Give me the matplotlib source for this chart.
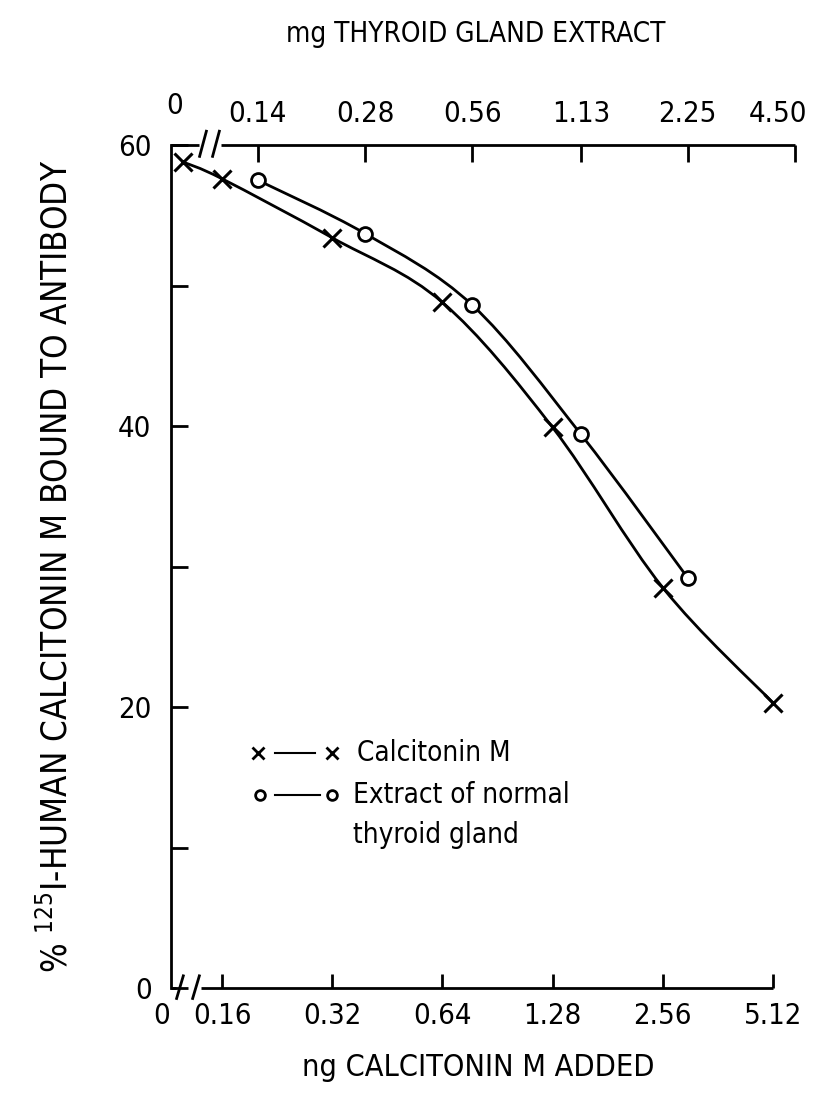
import numpy as np
import matplotlib
matplotlib.use("Agg")
import matplotlib.pyplot as plt
from matplotlib.path import Path
from matplotlib.patches import PathPatch

plt.rcParams['font.family'] = ['DejaVu Sans']
plt.rcParams['font.stretch'] = 'condensed'
plt.rcParams['mathtext.default'] = 'regular'

# calcitonin M standard (bottom axis, ng added)
ng_added = [0, 0.16, 0.32, 0.64, 1.28, 2.56, 5.12]
pct_calcitonin = [58.8, 57.6, 53.4, 48.8, 39.9, 28.5, 20.3]

# normal thyroid gland extract (top axis, mg)
mg_extract = [0.14, 0.28, 0.56, 1.13, 2.25]
pct_extract = [57.5, 53.7, 48.6, 39.4, 29.2]

ng_ticks = [0.16, 0.32, 0.64, 1.28, 2.56, 5.12]
ng_ticklabels = ['0.16', '0.32', '0.64', '1.28', '2.56', '5.12']
mg_ticks = [0.14, 0.28, 0.56, 1.13, 2.25, 4.50]
mg_ticklabels = ['0.14', '0.28', '0.56', '1.13', '2.25', '4.50']
y_major = [0, 20, 40, 60]
y_minor = [10, 30, 50]

# zero dose sits just past the axis break
BREAK_NG = 0.125

LW = 2.0


def smooth_path(xs, ys):
    # catmull-rom through the points in log2(x) space, as cubic beziers
    lx = np.log2(np.asarray(xs, float))
    y = np.asarray(ys, float)
    pts = np.column_stack([lx, y])
    verts = [pts[0]]
    codes = [Path.MOVETO]
    n = len(pts)
    for i in range(n - 1):
        p0 = pts[i - 1] if i > 0 else pts[i]
        p1 = pts[i]
        p2 = pts[i + 1]
        p3 = pts[i + 2] if i + 2 < n else pts[i + 1]
        c1 = p1 + (p2 - p0) / 6.0
        c2 = p2 - (p3 - p1) / 6.0
        verts += [c1, c2, p2]
        codes += [Path.CURVE4] * 3
    verts = np.array(verts)
    verts[:, 0] = 2.0 ** verts[:, 0]
    return Path(verts, codes)


fig = plt.figure(figsize=(8.13, 10.99), dpi=100)
ax = fig.add_axes([0.2103, 0.101, 0.7675, 0.767])
ax_top = ax.twiny()

ax.set_xscale('log', base=2)
ax.set_xlim(0.116, 5.88)
ax.set_ylim(0, 60)
ax_top.set_xscale('log', base=2)
ax_top.set_xlim(0.0799, 4.50)

# spines: left only, top/bottom drawn by hand with breaks
for s in ['top', 'right', 'bottom']:
    ax.spines[s].set_visible(False)
for s in ['top', 'right', 'bottom', 'left']:
    ax_top.spines[s].set_visible(False)
ax.spines['left'].set_linewidth(LW)

tr = ax.transAxes
kw = dict(color='black', lw=LW, transform=tr, clip_on=False, solid_capstyle='butt')
# bottom axis line with break
ax.plot([0, 0.008], [0, 0], **kw)
ax.plot([0.048, 0.9647], [0, 0], **kw)
for xc in [0.0144, 0.0401]:
    ax.plot([xc - 0.006, xc + 0.006], [-0.014, 0.016], **kw)
# top axis line with break
ax.plot([0, 0.045], [1, 1], **kw)
ax.plot([0.080, 1.0], [1, 1], **kw)
for xc in [0.0513, 0.0721]:
    ax.plot([xc - 0.006, xc + 0.006], [0.985, 1.018], **kw)

ax.set_xticks(ng_ticks)
ax.set_xticklabels(ng_ticklabels)
ax.xaxis.set_minor_locator(matplotlib.ticker.NullLocator())
ax.set_yticks(y_major)
ax.set_yticks(y_minor, minor=True)
ax.tick_params(axis='x', direction='in', length=10, width=LW, labelsize=21, pad=10)
ax.tick_params(axis='y', which='both', direction='in', length=12, width=LW, labelsize=21, pad=14)

ax_top.set_xticks(mg_ticks)
ax_top.set_xticklabels(mg_ticklabels)
ax_top.xaxis.set_minor_locator(matplotlib.ticker.NullLocator())
ax_top.tick_params(axis='x', direction='in', length=12, width=LW, labelsize=21, pad=12)
# last top label sits inside the page edge
ax_top.get_xticklabels()[-1].set_horizontalalignment('right')
ax_top.get_xticklabels()[-1].set_x(4.50)
last = ax_top.xaxis.get_major_ticks()[-1].label2
last.set_horizontalalignment('right')
last.set_transform(last.get_transform() + matplotlib.transforms.ScaledTranslation(12 / 100, 0, fig.dpi_scale_trans))

# zero labels at the breaks
ax.text(-0.0144, -0.0165, '0', transform=tr, ha='center', va='top', fontsize=21)
ax.text(0.0064, 1.03, '0', transform=tr, ha='center', va='bottom', fontsize=21)

# curves
ng_plot = [BREAK_NG if v == 0 else v for v in ng_added]
ax.add_patch(PathPatch(smooth_path(ng_plot, pct_calcitonin), fill=False, lw=LW, ec='black'))
ax_top.add_patch(PathPatch(smooth_path(mg_extract, pct_extract), fill=False, lw=LW, ec='black'))

ax.plot(ng_plot, pct_calcitonin, ls='none', marker='x', ms=13, mew=2.2, color='black', clip_on=False, zorder=5)
ax_top.plot(mg_extract, pct_extract, ls='none', marker='o', ms=10, mew=2, mfc='white', mec='black', clip_on=False, zorder=5)

# legend, drawn by hand
ax.plot([0.139], [0.279], marker='x', ms=9, mew=2, color='black', transform=tr)
ax.plot([0.167, 0.231], [0.279, 0.279], color='black', lw=1.5, transform=tr)
ax.plot([0.258], [0.279], marker='x', ms=9, mew=2, color='black', transform=tr)
ax.text(0.298, 0.279, 'Calcitonin M', transform=tr, va='center', fontsize=20)
ax.plot([0.143], [0.229], marker='o', ms=7, mew=2, mfc='white', mec='black', transform=tr)
ax.plot([0.167, 0.239], [0.229, 0.229], color='black', lw=1.5, transform=tr)
ax.plot([0.258], [0.229], marker='o', ms=7, mew=2, mfc='white', mec='black', transform=tr)
ax.text(0.292, 0.229, 'Extract of normal', transform=tr, va='center', fontsize=20)
ax.text(0.292, 0.181, 'thyroid gland', transform=tr, va='center', fontsize=20)

ax.set_ylabel('% $^{125}$I-HUMAN CALCITONIN M BOUND TO ANTIBODY', fontsize=25)
ax.yaxis.set_label_coords(-0.155, 0.5)

fig.text(476 / 813, 1 - 34 / 1099, 'mg THYROID GLAND EXTRACT', ha='center', va='center', fontsize=20)
fig.text(478 / 813, 1 - 1068 / 1099, 'ng CALCITONIN M ADDED', ha='center', va='center', fontsize=22)

fig.savefig('out.png', dpi=100)
